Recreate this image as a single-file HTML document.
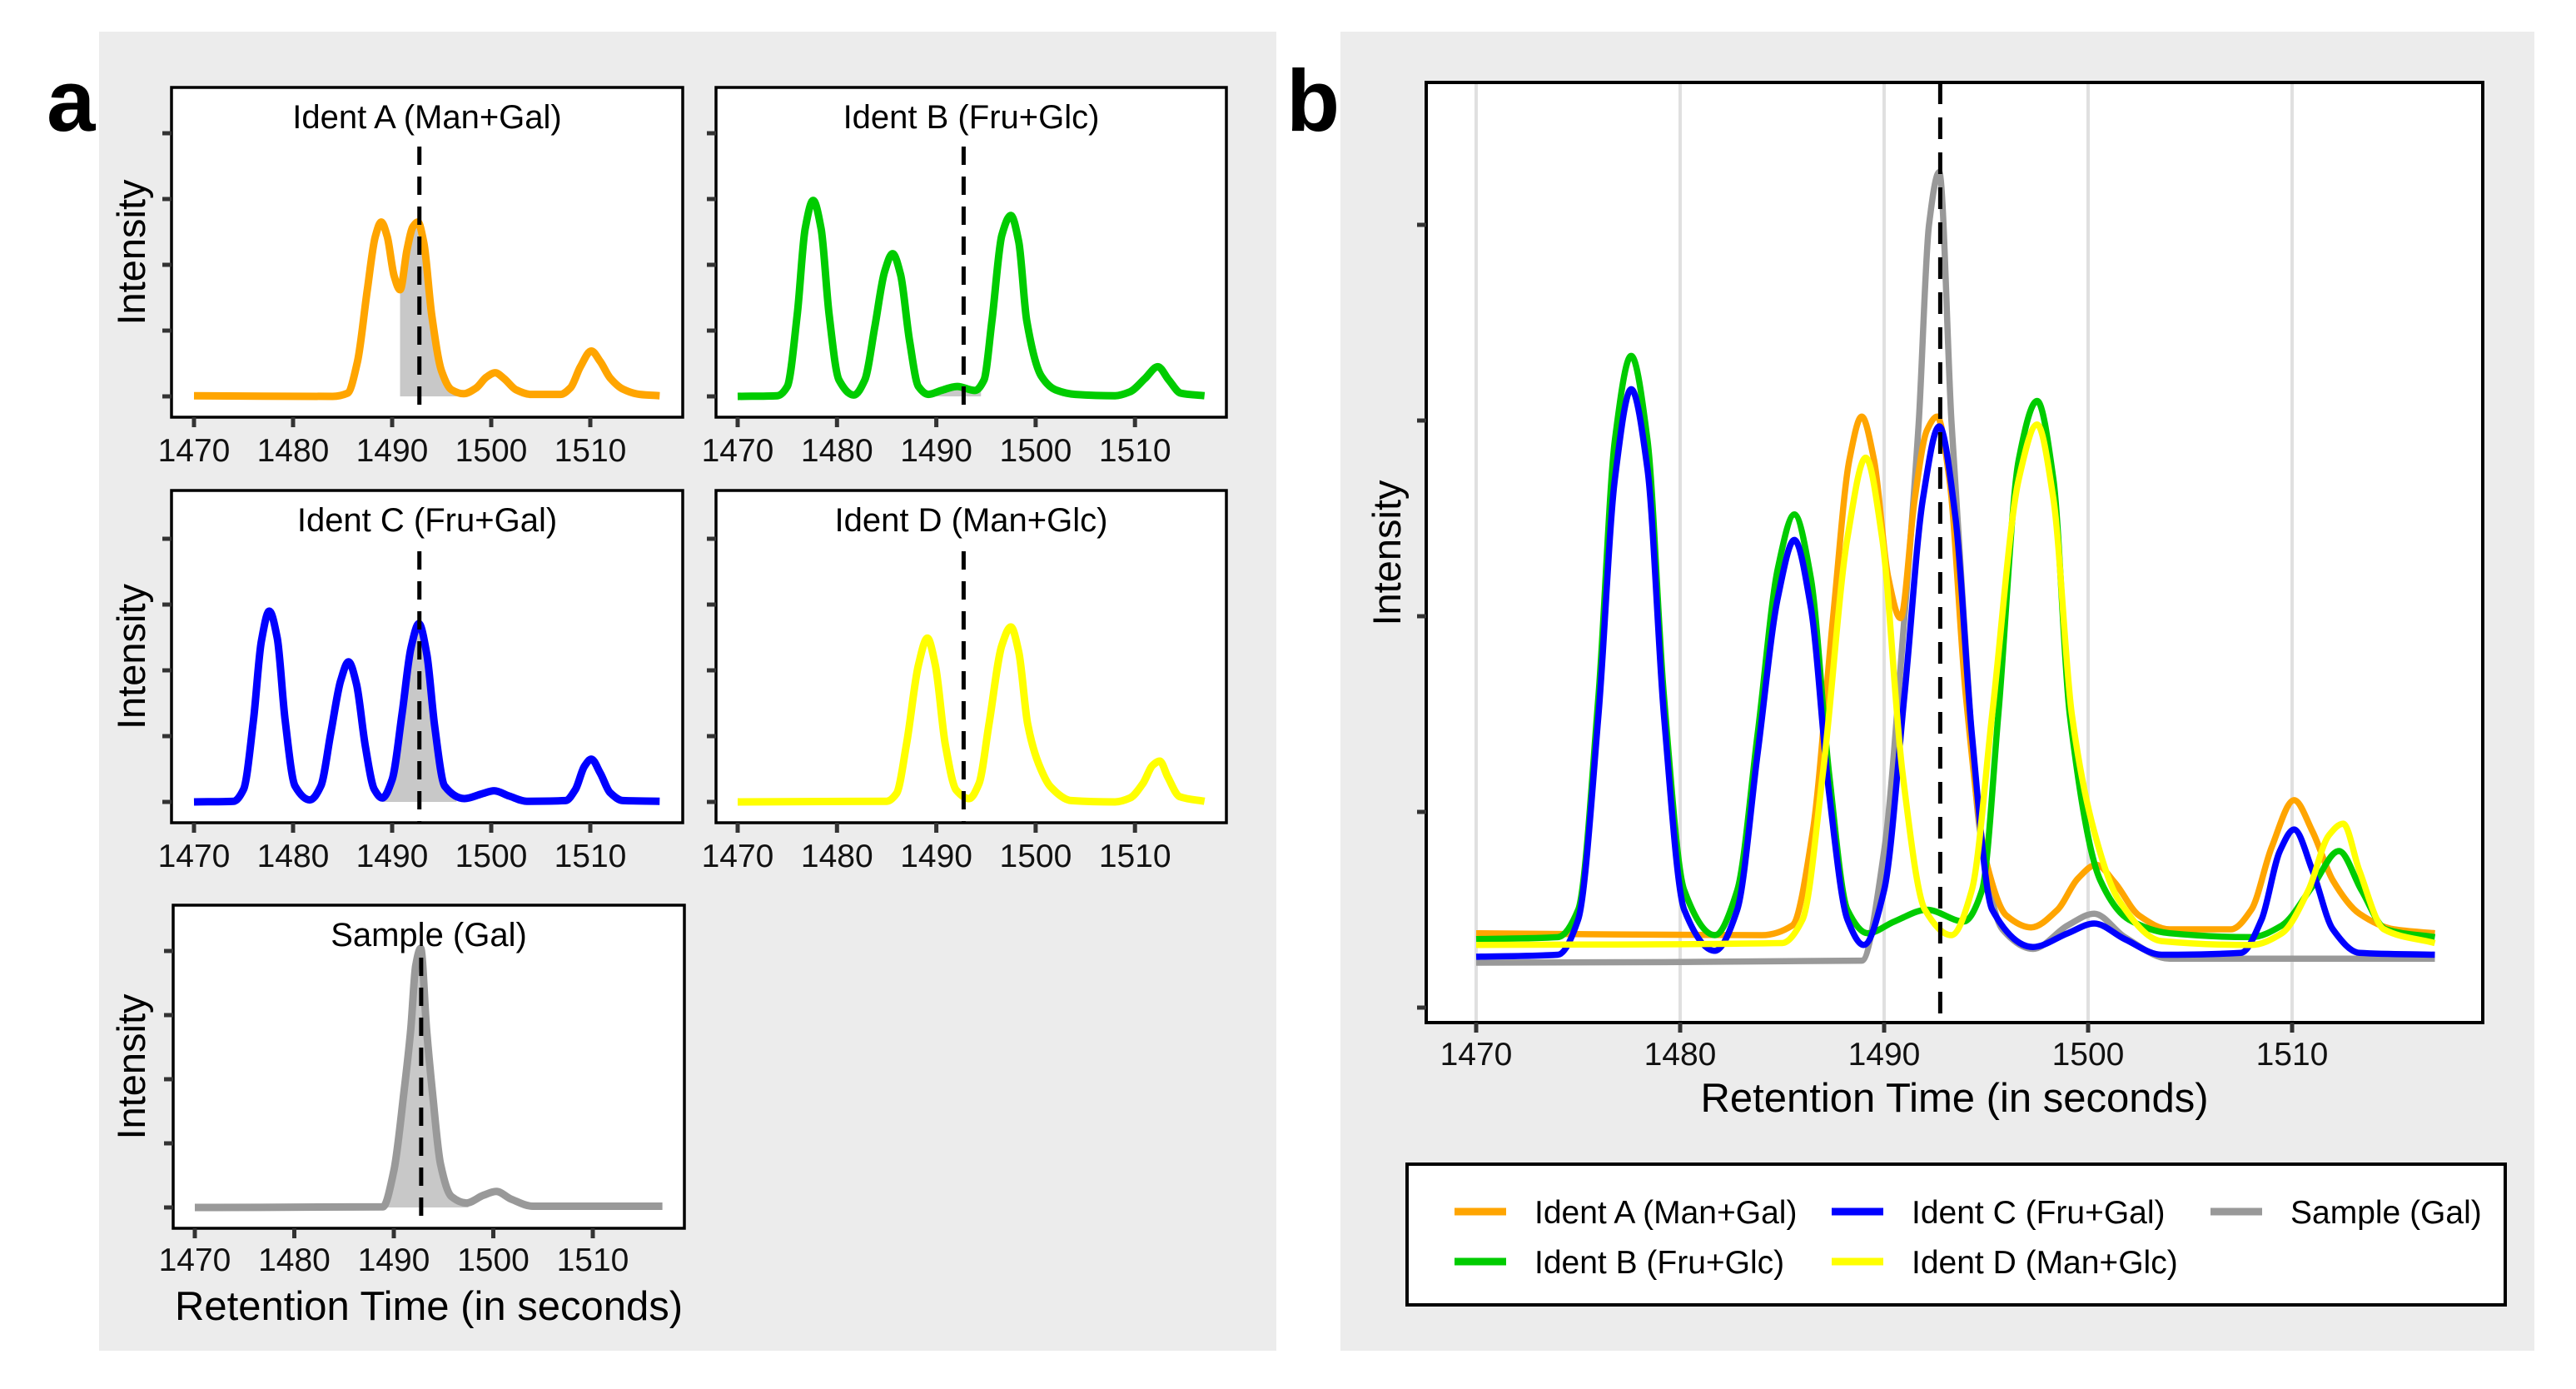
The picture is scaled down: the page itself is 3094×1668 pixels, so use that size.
<!DOCTYPE html>
<html><head><meta charset="utf-8">
<style>
html,body{margin:0;padding:0;background:#fff;}
svg{display:block;font-family:"Liberation Sans",Arial,sans-serif;}
</style></head>
<body>
<svg id="fig" width="3094" height="1668" viewBox="0 0 3094 1668" xmlns="http://www.w3.org/2000/svg">
  <rect x="119" y="38" width="1414" height="1584" fill="#ececec"/>
  <rect x="1610" y="38" width="1434" height="1584" fill="#ececec"/>
  <text x="56" y="157" font-size="105" font-weight="bold">a</text>
  <text x="1545" y="157" font-size="105" font-weight="bold">b</text>
  <g id="layer"></g>
</svg>
<script>
// ---- data (retention time in seconds, intensity in arbitrary units) ----
const xTicks = [1470, 1480, 1490, 1500, 1510];
const markerTime = 1492.75;
const seriesNames = ["Ident A (Man+Gal)", "Ident B (Fru+Glc)", "Ident C (Fru+Gal)", "Ident D (Man+Glc)", "Sample (Gal)"];
const seriesColors = ["#FFA500", "#00CC00", "#0000FF", "#FFFF00", "#999999"];

const timesA = [1470,1484,1485.5,1486.5,1487.5,1488.3,1488.9,1489.5,1490.2,1490.8,1491.5,1492.1,1492.6,1493.2,1494,1495,1496,1497.2,1498.5,1499.5,1500.4,1501.3,1502.5,1504,1507,1508,1509,1510.1,1511,1512,1513.3,1515,1517];
const valuesA = [0.38,0.37,0.42,0.9,2.0,2.8,3.02,2.8,2.2,1.99,2.6,2.95,3.02,2.7,1.6,0.75,0.47,0.41,0.5,0.66,0.73,0.64,0.47,0.4,0.4,0.5,0.82,1.06,0.9,0.65,0.48,0.4,0.38];

const timesB = [1470,1474,1475,1476,1476.8,1477.6,1478.4,1479.2,1480.2,1481.7,1482.8,1483.8,1484.8,1485.6,1486.4,1487.3,1488.2,1489.2,1490.5,1492.1,1493.9,1494.8,1495.6,1496.6,1497.5,1498.3,1499.1,1500.6,1502,1504,1508,1509.5,1511,1512.3,1513.4,1514.6,1517];
const valuesB = [0.35,0.36,0.5,1.6,2.9,3.33,2.9,1.6,0.6,0.37,0.6,1.4,2.25,2.52,2.2,1.2,0.5,0.38,0.44,0.5,0.44,0.6,1.5,2.8,3.1,2.7,1.5,0.65,0.45,0.38,0.36,0.42,0.62,0.8,0.6,0.4,0.36];

const timesC = [1470,1474,1475,1476,1476.8,1477.6,1478.4,1479.2,1480.2,1481.7,1482.8,1483.8,1484.8,1485.6,1486.4,1487.3,1488.2,1489,1490,1491,1491.9,1492.7,1493.5,1494.3,1495.3,1497.3,1499,1500.3,1501.8,1503.6,1507.5,1508.5,1509.4,1510.1,1511,1512,1513.3,1517];
const valuesC = [0.26,0.27,0.45,1.5,2.7,3.16,2.75,1.5,0.5,0.29,0.5,1.3,2.1,2.39,2.05,1.1,0.45,0.32,0.6,1.6,2.6,2.97,2.5,1.4,0.5,0.31,0.38,0.43,0.35,0.27,0.28,0.45,0.8,0.91,0.7,0.4,0.28,0.27];

const timesD = [1470,1485,1486,1487,1488.2,1489.1,1489.9,1490.9,1492,1493.3,1494.3,1495.3,1496.6,1497.5,1498.3,1499.2,1500.3,1501.5,1503.6,1508,1509.5,1510.8,1511.8,1512.5,1513.3,1514.5,1517];
const valuesD = [0.32,0.33,0.45,1.2,2.4,2.81,2.4,1.2,0.5,0.37,0.6,1.5,2.7,2.98,2.6,1.5,0.9,0.55,0.34,0.32,0.38,0.6,0.88,0.94,0.7,0.4,0.33];

const timesS = [1470,1488.9,1490,1491,1491.7,1492.2,1492.7,1493.3,1493.9,1494.7,1495.8,1497.3,1499,1500.3,1501.8,1504,1517];
const valuesS = [0.23,0.24,0.8,2.0,3.0,4.0,4.27,3.0,2.0,0.9,0.4,0.3,0.42,0.48,0.36,0.25,0.25];

const shadeRanges = [[1490.8,1496.5],[1489.5,1494.5],[1489,1496.5],null,[1489,1497.5]];

const allTimes = [timesA,timesB,timesC,timesD,timesS];
const allValues = [valuesA,valuesB,valuesC,valuesD,valuesS];

// ---- drawing ----
const NS = "http://www.w3.org/2000/svg";
const layer = document.getElementById("layer");
function mk(tag, attrs, parent) {
  const e = document.createElementNS(NS, tag);
  for (const k in attrs) e.setAttribute(k, attrs[k]);
  (parent || layer).appendChild(e);
  return e;
}
// monotone cubic (Fritsch-Carlson) path
function smoothPath(pts) {
  const n = pts.length;
  const dx = [], m = [], s = [];
  for (let i = 0; i < n - 1; i++) { dx[i] = pts[i+1][0] - pts[i][0]; s[i] = (pts[i+1][1] - pts[i][1]) / dx[i]; }
  m[0] = s[0]; m[n-1] = s[n-2];
  for (let i = 1; i < n - 1; i++) {
    if (s[i-1] * s[i] <= 0) m[i] = 0;
    else { const w1 = 2*dx[i] + dx[i-1], w2 = dx[i] + 2*dx[i-1]; m[i] = (w1 + w2) / (w1 / s[i-1] + w2 / s[i]); }
  }
  let d = "M" + pts[0][0].toFixed(1) + "," + pts[0][1].toFixed(1);
  for (let i = 0; i < n - 1; i++) {
    const h = dx[i] / 3;
    d += " C" + (pts[i][0] + h).toFixed(1) + "," + (pts[i][1] + m[i]*h).toFixed(1) + " " +
         (pts[i+1][0] - h).toFixed(1) + "," + (pts[i+1][1] - m[i+1]*h).toFixed(1) + " " +
         pts[i+1][0].toFixed(1) + "," + pts[i+1][1].toFixed(1);
  }
  return d;
}
function interp(ts, vs, t) {
  for (let i = 0; i < ts.length - 1; i++) if (t >= ts[i] && t <= ts[i + 1]) {
    const f = (t - ts[i]) / (ts[i + 1] - ts[i]); return vs[i] + f * (vs[i + 1] - vs[i]);
  }
  return vs[vs.length - 1];
}

// small panels
const panels = [
  {box:[206,105,820,501], x0:233, sx:11.9, base:476, k:79, dashTop:176, title:"Ident A (Man+Gal)", tl:540, ylab:true},
  {box:[860,105,1473,501], x0:886, sx:11.93, base:476, k:79, dashTop:176, title:"Ident B (Fru+Glc)", tl:540, ylab:false},
  {box:[206,589,820,988], x0:233, sx:11.9, base:963, k:79, dashTop:662, title:"Ident C (Fru+Gal)", tl:1027, ylab:true},
  {box:[860,589,1473,988], x0:886, sx:11.93, base:963, k:79, dashTop:662, title:"Ident D (Man+Glc)", tl:1027, ylab:false},
  {box:[208,1087,822,1475], x0:234, sx:11.95, base:1450, k:77, dashTop:1150, title:"Sample (Gal)", tl:1512, ylab:true}
];
panels.forEach((p, si) => {
  const g = mk("g", {});
  
  
  const [x1,y1,x2,y2] = p.box;
  const bg = mk("rect", {x:x1, y:y1, width:x2-x1, height:y2-y1, fill:"#fff"}, g);
  
  
  const ts = allTimes[si], vs = allValues[si];
  const vmin = Math.min(...vs);
  const X = t => p.x0 + p.sx * (t - 1470);
  const Y = v => p.base - p.k * (v - vmin);
  const sr = shadeRanges[si];
  if (sr) {
    const pts = [];
    for (let t = sr[0]; t <= sr[1] + 1e-9; t += 0.1) pts.push([X(t), Y(interp(ts, vs, t))]);
    let d = "M" + X(sr[0]) + "," + p.base + " L" + pts.map(q => q[0].toFixed(1) + "," + q[1].toFixed(1)).join(" L") + " L" + X(sr[1]) + "," + p.base + " Z";
    const sh = mk("path", {d:d, fill:"#c8c8c8"}, g);
    
    
  }
  const line = mk("path", {d:smoothPath(ts.map((t,i)=>[X(t),Y(vs[i])])), fill:"none", stroke:seriesColors[si], "stroke-width":9, "stroke-linejoin":"round"}, g);
  
  
  const dash = mk("line", {x1:X(markerTime), x2:X(markerTime), y1:p.dashTop, y2:y2, stroke:"#000", "stroke-width":5, "stroke-dasharray":"22 14"}, g);
  
  
  const fr = mk("rect", {x:x1, y:y1, width:x2-x1, height:y2-y1, fill:"none", stroke:"#000", "stroke-width":3.5}, g);
  
  
  const tt = mk("text", {x:(x1+x2)/2, y:y1+49, "font-size":40, "text-anchor":"middle"}, g);
  tt.textContent = p.title;
  
  
  for (let i = 0; i < 5; i++) {
    const tk = mk("line", {x1:x1-11, x2:x1, y1:p.base - p.k*i, y2:p.base - p.k*i, stroke:"#333", "stroke-width":5}, g);
    
    
  }
  xTicks.forEach(t => {
    const tk = mk("line", {x1:X(t), x2:X(t), y1:y2, y2:y2+12, stroke:"#333", "stroke-width":5}, g);
    
    
    const lb = mk("text", {x:X(t), y:p.tl+14, "font-size":39, "text-anchor":"middle", fill:"#111"}, g);
    lb.textContent = t;
    
    
  });
  if (p.ylab) {
    const cy = (y1+y2)/2;
    const yl = mk("text", {x:0, y:0, "font-size":47, "text-anchor":"middle", transform:"translate(174," + cy + ") rotate(-90)"}, g);
    yl.textContent = "Intensity";
    
    
  }
});
const at = mk("text", {x:515, y:1585, "font-size":49, "text-anchor":"middle"});
at.textContent = "Retention Time (in seconds)";



// big panel b
(function(){
  const x1=1713, y1=99, x2=2982, y2=1228;
  const X = t => 1773 + 24.5 * (t - 1470);
  const Y = v => 1210 - 235 * v;
  const g = mk("g", {});
  
  
  const bg = mk("rect", {x:x1, y:y1, width:x2-x1, height:y2-y1, fill:"#fff"}, g);
  
  
  xTicks.forEach(t => {
    const gl = mk("line", {x1:X(t), x2:X(t), y1:y1, y2:y2, stroke:"#e0e0e0", "stroke-width":4}, g);
    
    
  });
  const order = [4,0,1,2,3];
  order.forEach(si => {
    const ts = allTimes[si], vs = allValues[si];
    const ln = mk("path", {d:smoothPath(ts.map((t,i)=>[X(t),Y(vs[i])])), fill:"none", stroke:seriesColors[si], "stroke-width":7.5, "stroke-linejoin":"round"}, g);
    
    
  });
  const dash = mk("line", {x1:X(markerTime), x2:X(markerTime), y1:y1, y2:y2, stroke:"#000", "stroke-width":5, "stroke-dasharray":"26 16"}, g);
  
  
  const fr = mk("rect", {x:x1, y:y1, width:x2-x1, height:y2-y1, fill:"none", stroke:"#000", "stroke-width":4}, g);
  
  
  for (let i = 0; i < 5; i++) {
    const tk = mk("line", {x1:x1-11, x2:x1, y1:Y(i), y2:Y(i), stroke:"#333", "stroke-width":5}, g);
    
    
  }
  xTicks.forEach(t => {
    const tk = mk("line", {x1:X(t), x2:X(t), y1:y2, y2:y2+12, stroke:"#333", "stroke-width":5}, g);
    
    
    const lb = mk("text", {x:X(t), y:1279, "font-size":39, "text-anchor":"middle", fill:"#111"}, g);
    lb.textContent = t;
    
    
  });
  const xt = mk("text", {x:(x1+x2)/2, y:1335, "font-size":49, "text-anchor":"middle"}, g);
  xt.textContent = "Retention Time (in seconds)";
  
  
  const yt = mk("text", {x:0, y:0, "font-size":47, "text-anchor":"middle", transform:"translate(1682,664) rotate(-90)"}, g);
  yt.textContent = "Intensity";
  
  

  // legend
  const lg = mk("g", {});
  
  
  const lb = mk("rect", {x:1690, y:1398, width:1319, height:169, fill:"#fff", stroke:"#000", "stroke-width":4}, lg);
  
  
  const colX = [1747, 2200, 2655], rowY = [1455, 1515];
  const pos = [[0,0],[0,1],[1,0],[1,1],[2,0]];
  seriesNames.forEach((nm, i) => {
    const [c, r] = pos[i];
    const e = mk("g", {}, lg);
    
    
    mk("line", {x1:colX[c], x2:colX[c]+62, y1:rowY[r], y2:rowY[r], stroke:seriesColors[i], "stroke-width":9}, e);
    const tx = mk("text", {x:colX[c]+96, y:rowY[r]+14, "font-size":39}, e);
    tx.textContent = nm;
  });
})();
</script>
</body></html>
